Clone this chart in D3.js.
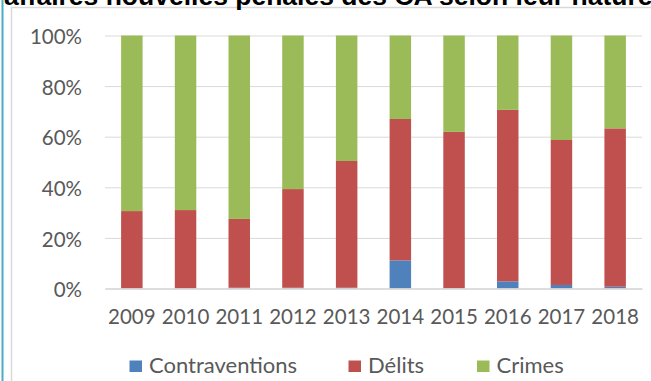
<!DOCTYPE html>
<html>
<head>
<meta charset="utf-8">
<script src="https://cdn.jsdelivr.net/npm/d3@7"></script>
<style>
  html, body { margin: 0; padding: 0; background: #fff; }
  svg { display: block; }
</style>
</head>
<body>
<svg id="chart" width="651" height="381"></svg>
<script>
// Share of new criminal cases in the courts of appeal, by type (%)
const years = ["2009", "2010", "2011", "2012", "2013", "2014", "2015", "2016", "2017", "2018"];
const contraventions = [0.0, 0.0, 0.3, 0.3, 0.3, 11.1, 0.1, 2.8, 1.4, 0.7];
const delits = [30.6, 31.0, 27.2, 39.0, 50.1, 55.9, 61.8, 67.8, 57.3, 62.6];
const crimes = [69.4, 69.0, 72.5, 60.7, 49.6, 33.0, 38.1, 29.4, 41.3, 36.7];
const seriesNames = ["Contraventions", "Délits", "Crimes"];
const seriesColors = ["#4F81BD", "#C0504D", "#9BBB59"];
const yTicks = [0, 0.2, 0.4, 0.6, 0.8, 1];
const titleText = "affaires nouvelles pénales des CA selon leur nature";

const svg = d3.select("#chart");
const W = 651, H = 381;
const plot = { left: 105, right: 642, top: 35.5, bottom: 288.5 };
const axisFont = "Lato, 'Open Sans', sans-serif";
const textColor = "#595959";

// frame of the document / chart area
svg.append("line").attr("x1", 2.5).attr("x2", 2.5).attr("y1", 0).attr("y2", H)
  .attr("stroke", "#4BACC6").attr("stroke-width", 2);
svg.append("path").attr("d", `M11.5,${H} V7.5 H${W}`)
  .attr("fill", "none").attr("stroke", "#d9d9d9").attr("stroke-width", 1.5);

// title (runs off the top of the chart area)
svg.append("text").attr("x", 4).attr("y", 4.7)
  .attr("font-family", "'Liberation Sans', Arial, sans-serif")
  .attr("font-weight", "bold").attr("font-size", 26.5)
  .attr("fill", "#000").text(titleText);

const rows = years.map((y, i) => ({
  year: y,
  Contraventions: contraventions[i],
  "Délits": delits[i],
  Crimes: crimes[i]
}));

const stack = d3.stack().keys(seriesNames).offset(d3.stackOffsetExpand);
const stacked = stack(rows);

const x = d3.scaleBand().domain(years).range([plot.left, plot.right])
  .paddingInner(0.6).paddingOuter(0.3);
const y = d3.scaleLinear().domain([0, 1]).range([plot.bottom, plot.top]);

// gridlines
const yAxis = d3.axisLeft(y).tickValues(yTicks).tickSize(-(plot.right - plot.left))
  .tickFormat(d3.format(".0%")).tickPadding(23);
const gy = svg.append("g").attr("transform", `translate(${plot.left},0)`).call(yAxis);
gy.select(".domain").remove();
gy.selectAll(".tick line").attr("stroke", "#d9d9d9").attr("stroke-width", 1);
gy.selectAll(".tick text").attr("font-family", axisFont).attr("font-size", 20.5)
  .attr("fill", textColor).attr("dy", "0.4em");

// bars
const color = d3.scaleOrdinal().domain(seriesNames).range(seriesColors);
svg.append("g").selectAll("g").data(stacked).join("g")
  .attr("fill", d => color(d.key))
  .selectAll("rect").data(d => d).join("rect")
  .attr("x", d => x(d.data.year))
  .attr("width", x.bandwidth())
  .attr("y", d => y(d[1]))
  .attr("height", d => y(d[0]) - y(d[1]));

// category axis
const xAxis = d3.axisBottom(x).tickSize(0).tickPadding(21);
const gx = svg.append("g").attr("transform", `translate(0,${plot.bottom})`).call(xAxis);
gx.select(".domain").attr("stroke", "#d9d9d9").attr("stroke-width", 1.7);
gx.selectAll(".tick text").attr("font-family", axisFont).attr("font-size", 20.5)
  .attr("fill", textColor);

// legend
const legendX = [129.5, 348.5, 477];
const legend = svg.append("g");
seriesNames.forEach((name, i) => {
  legend.append("rect").attr("x", legendX[i]).attr("y", 360.5)
    .attr("width", 12.5).attr("height", 11.5).attr("fill", seriesColors[i]);
  legend.append("text").attr("x", legendX[i] + 19.5).attr("y", 373)
    .attr("font-family", axisFont).attr("font-size", 22)
    .attr("fill", textColor).text(name);
});
</script>
</body>
</html>
